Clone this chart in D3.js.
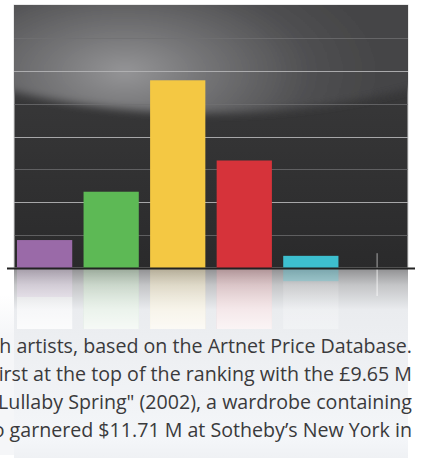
<!DOCTYPE html>
<html><head><meta charset="utf-8">
<script src="https://cdn.jsdelivr.net/npm/d3@7"></script>
<style>html,body{margin:0;padding:0;background:#fff;overflow:hidden}svg{display:block}</style>
</head><body>
<script>
const categories = ["A","B","C","D","E","F"];
const values = [0.85, 2.32, 5.71, 3.27, 0.37, 0.45];
const colors = ["#9a6aa8","#5db955","#f4c843","#d6333a","#3dbfcf","#cfcfcf"];
const gridTicks = [1,2,3,4,5,6,7];
const captionLines = [
  "h artists, based on the Artnet Price Database.",
  "irst at the top of the ranking with the £9.65 M",
  "\u201CLullaby Spring\" (2002), a wardrobe containing",
  "o garnered $11.71 M at Sotheby\u2019s New York in"
];

const W = 422, H = 462;
const panel = {x0: 14, x1: 408, y0: 5, y1: 268};
const svg = d3.select("body").append("svg").attr("width", W).attr("height", H);
const defs = svg.append("defs");

const x = d3.scaleBand().domain(categories).range([11, 411]).paddingInner(0.17).paddingOuter(0.09);
const y = d3.scaleLinear().domain([0, 8]).range([panel.y1, panel.y0]);

// background below
const bgGrad = defs.append("linearGradient").attr("id","bgG").attr("x1",0).attr("y1",0).attr("x2",0).attr("y2",1);
bgGrad.append("stop").attr("offset","0%").attr("stop-color","#8e8e90");
bgGrad.append("stop").attr("offset","9%").attr("stop-color","#c4c5c7");
bgGrad.append("stop").attr("offset","22%").attr("stop-color","#eaecef");
bgGrad.append("stop").attr("offset","90%").attr("stop-color","#f4f6f9");
bgGrad.append("stop").attr("offset","100%").attr("stop-color","#eff1f4");
svg.append("rect").attr("x", panel.x0).attr("y", panel.y1).attr("width", panel.x1 - panel.x0)
  .attr("height", H - panel.y1 - 4).attr("fill","url(#bgG)");
const lg = defs.append("linearGradient").attr("id","lg").attr("x1",0).attr("y1",0).attr("x2",0).attr("y2",1);
lg.append("stop").attr("offset","0%").attr("stop-color","#f5f6f8").attr("stop-opacity",0);
lg.append("stop").attr("offset","25%").attr("stop-color","#f5f6f8").attr("stop-opacity",1);
lg.append("stop").attr("offset","100%").attr("stop-color","#f5f6f8").attr("stop-opacity",1);
svg.append("rect").attr("x", 0).attr("y", 295).attr("width", panel.x0)
  .attr("height", 160).attr("fill","url(#lg)");

// reflections
const refGrad = defs.append("linearGradient").attr("id","refG").attr("x1",0).attr("y1",0).attr("x2",0).attr("y2",1);
refGrad.append("stop").attr("offset","0%").attr("stop-color","#fff").attr("stop-opacity",0.2);
refGrad.append("stop").attr("offset","100%").attr("stop-color","#fff").attr("stop-opacity",0.95);
const refl = svg.append("g");
refl.selectAll("rect.r").data(categories.slice(0,5)).join("rect")
  .attr("x", d => x(d)).attr("width", x.bandwidth())
  .attr("y", panel.y1 + 1)
  .attr("height", (d,i) => Math.min(panel.y1 - y(values[i]), 60))
  .attr("fill", (d,i) => colors[i]).attr("opacity", (d,i) => i === 4 ? 0.35 : 0.2);
refl.selectAll("rect.f").data(categories.slice(0,5)).join("rect")
  .attr("x", d => x(d)).attr("width", x.bandwidth())
  .attr("y", panel.y1 + 1).attr("height", 60)
  .attr("fill", "url(#refG)").attr("opacity", (d,i) => i === 4 ? 0.3 : 0.85);

// panel
const clip = defs.append("clipPath").attr("id","pc");
clip.append("rect").attr("x", panel.x0).attr("y", panel.y0).attr("width", panel.x1 - panel.x0).attr("height", panel.y1 - panel.y0);
const pg = defs.append("linearGradient").attr("id","pg").attr("x1",0).attr("y1",0).attr("x2",0).attr("y2",1);
pg.append("stop").attr("offset","0%").attr("stop-color","#3e3e40");
pg.append("stop").attr("offset","45%").attr("stop-color","#353536");
pg.append("stop").attr("offset","100%").attr("stop-color","#2a2a2b");
svg.append("rect").attr("x", panel.x0).attr("y", panel.y0).attr("width", panel.x1 - panel.x0)
  .attr("height", panel.y1 - panel.y0).attr("fill","url(#pg)").attr("stroke","#d6d6d6").attr("stroke-width",1);
const rg = defs.append("radialGradient").attr("id","rg").attr("gradientUnits","userSpaceOnUse")
  .attr("cx",125).attr("cy",72).attr("r",260)
  .attr("gradientTransform","translate(125,72) scale(1,0.5) translate(-125,-72)");
rg.append("stop").attr("offset","0%").attr("stop-color","#959597");
rg.append("stop").attr("offset","30%").attr("stop-color","#757577");
rg.append("stop").attr("offset","70%").attr("stop-color","#505052");
rg.append("stop").attr("offset","100%").attr("stop-color","#444446");
const blur = defs.append("filter").attr("id","bl").attr("x","-20%").attr("y","-20%").attr("width","140%").attr("height","140%");
blur.append("feGaussianBlur").attr("stdDeviation",4);
const pgrp = svg.append("g").attr("clip-path","url(#pc)");
pgrp.append("ellipse").attr("cx", 205).attr("cy", 5).attr("rx", 320).attr("ry", 108)
  .attr("fill","url(#rg)").attr("filter","url(#bl)");

// grid
pgrp.selectAll("line.g").data(gridTicks).join("line")
  .attr("x1", panel.x0).attr("x2", panel.x1)
  .attr("y1", d => Math.round(y(d)) + 0.5).attr("y2", d => Math.round(y(d)) + 0.5)
  .attr("stroke", d => d % 2 === 0 ? "#b4b4b6" : "#707072").attr("stroke-width", 1.2)
  .attr("opacity", d => d % 2 === 0 ? 0.9 : 0.75);

// bars
svg.selectAll("rect.bar").data(categories.slice(0,5)).join("rect")
  .attr("x", d => x(d)).attr("width", x.bandwidth())
  .attr("y", (d,i) => y(values[i])).attr("height", (d,i) => panel.y1 - y(values[i]))
  .attr("fill", (d,i) => colors[i]);
// sixth faint bar
const c6 = categories[5];
svg.append("rect").attr("x", x(c6) + x.bandwidth()/2 - 1).attr("width", 1.5)
  .attr("y", y(values[5])).attr("height", panel.y1 - y(values[5])).attr("fill", colors[5]).attr("opacity",0.5);
svg.append("rect").attr("x", x(c6) + x.bandwidth()/2 - 1).attr("width", 1.5)
  .attr("y", panel.y1).attr("height", 28).attr("fill", "#fff").attr("opacity",0.5);

// axis
svg.append("line").attr("x1", 7).attr("x2", 415).attr("y1", panel.y1 + 0.5).attr("y2", panel.y1 + 0.5)
  .attr("stroke","#222").attr("stroke-width",2);

// caption
const caps = svg.selectAll("text.cap").data(captionLines).join("text")
  .attr("x", 412).attr("y", (d,i) => 353 + i*28)
  .attr("text-anchor","end")
  .attr("font-family","'Open Sans', sans-serif").attr("font-size", 17)
  .attr("fill","#3a3a3c").text(d => d);
const w0 = caps.nodes()[0].getComputedTextLength();
const fs = 17 * 413 / w0;
caps.attr("font-size", fs);
</script>
</body></html>
